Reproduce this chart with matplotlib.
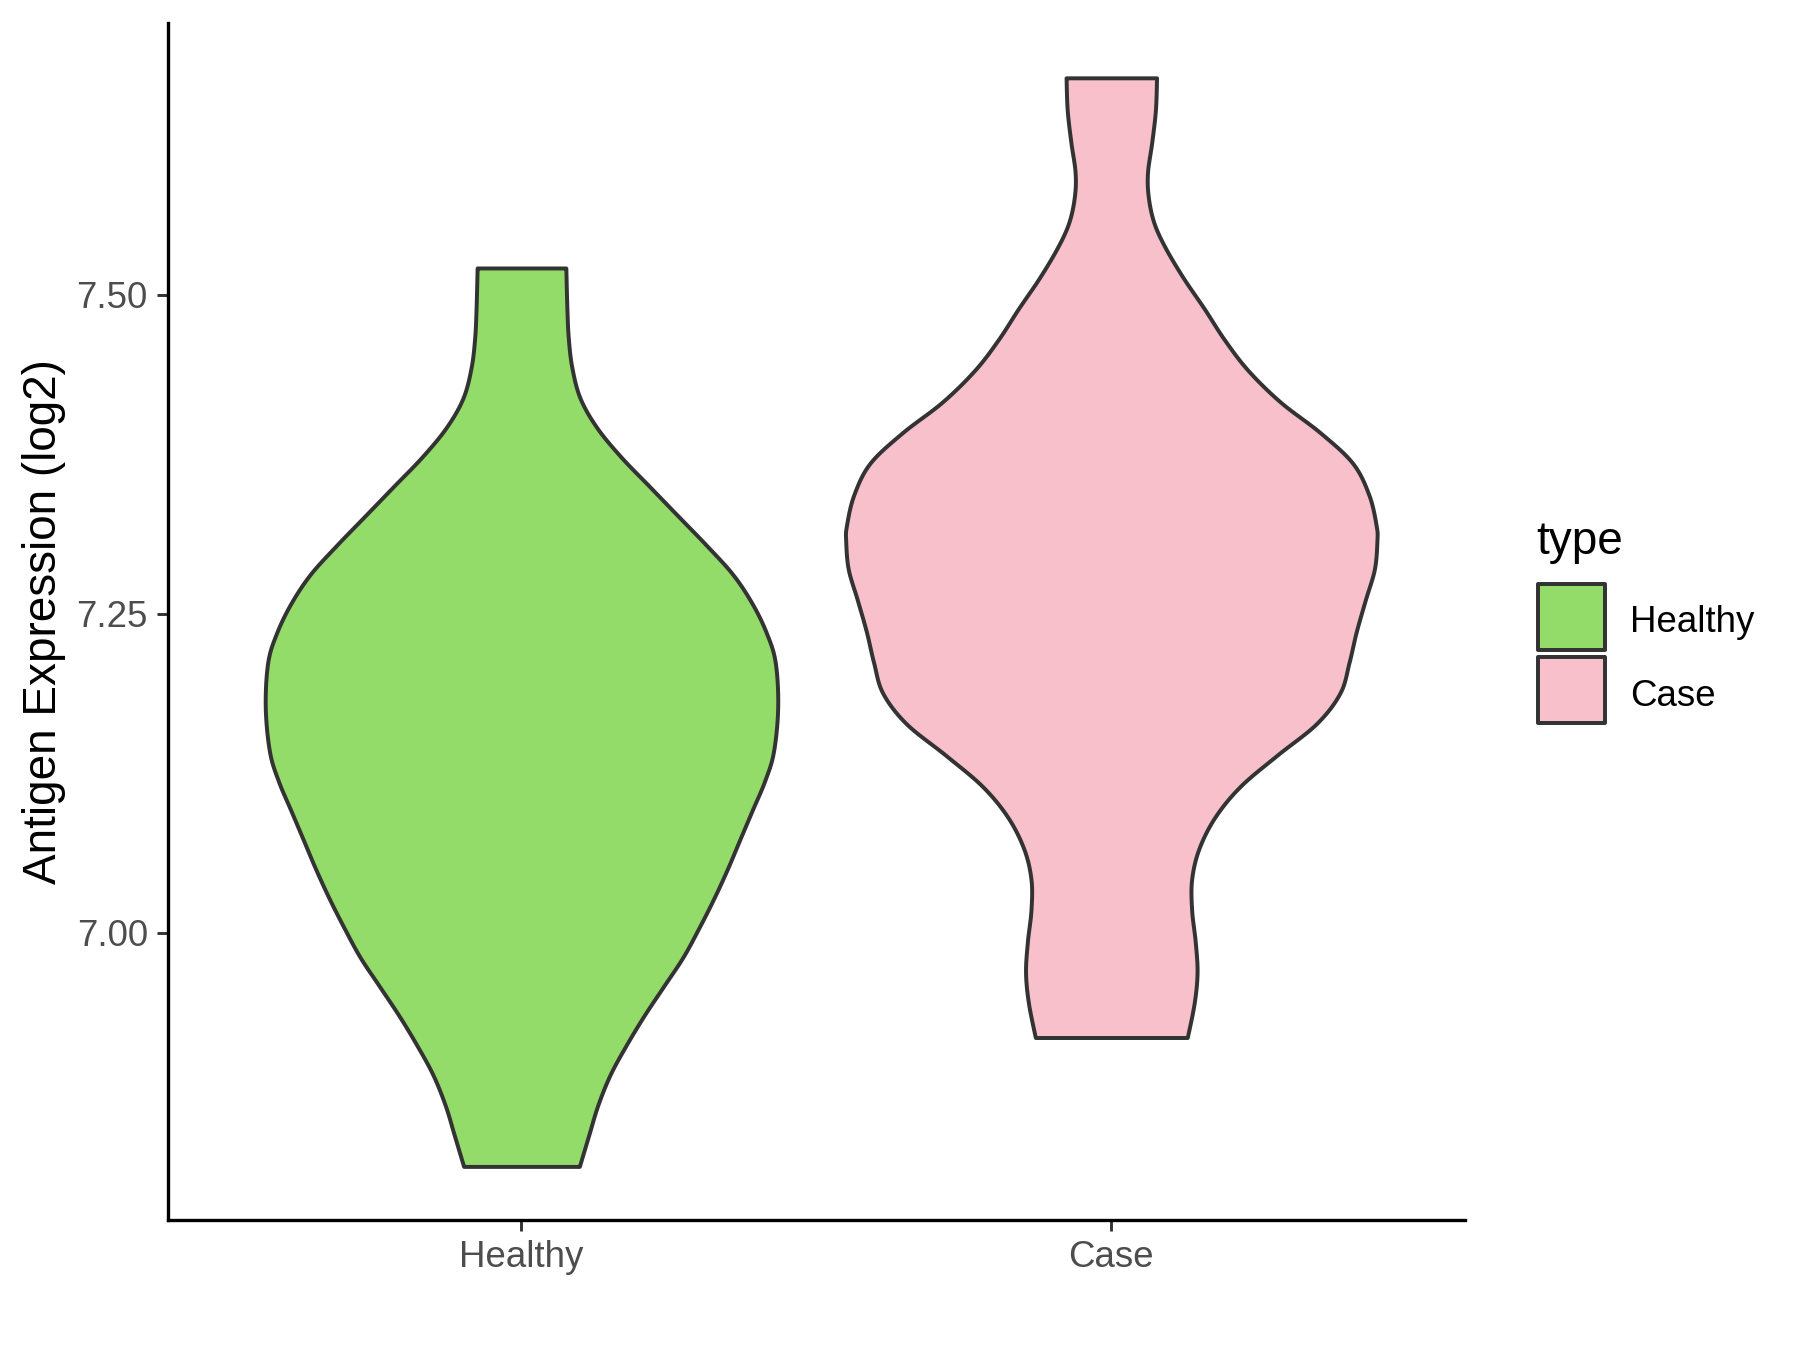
import numpy as np
import matplotlib.pyplot as plt
from matplotlib.patches import Rectangle

plt.rcParams['font.family'] = ['Liberation Sans', 'DejaVu Sans']

# ----------------------------------------------------------------------
# Data: violin outlines (expression, half width)
# ----------------------------------------------------------------------
categories = ['Healthy', 'Case']
fill_colors = ['#94DC6A', '#F8C0CB']

healthy_y = [7.521, 7.489, 7.466, 7.443, 7.419, 7.396, 7.373, 7.350, 7.327,
             7.304, 7.281, 7.258, 7.235, 7.212, 7.177, 7.142, 7.119, 7.096,
             7.073, 7.050, 7.027, 7.004, 6.981, 6.958, 6.935, 6.912, 6.889,
             6.865, 6.842, 6.817]
healthy_halfwidth = [0.0752, 0.0770, 0.0794, 0.0854, 0.0993, 0.1276, 0.1685,
                     0.2166, 0.2647, 0.3129, 0.3580, 0.3911, 0.4152, 0.4302,
                     0.4344, 0.4272, 0.4122, 0.3911, 0.3700, 0.3490, 0.3261,
                     0.3009, 0.2738, 0.2407, 0.2076, 0.1775, 0.1504, 0.1294,
                     0.1143, 0.0981]

case_y = [7.670, 7.645, 7.620, 7.596, 7.577, 7.557, 7.538, 7.514, 7.489,
          7.465, 7.441, 7.416, 7.392, 7.368, 7.343, 7.319, 7.307, 7.285,
          7.261, 7.236, 7.212, 7.188, 7.164, 7.139, 7.115, 7.091, 7.066,
          7.042, 7.018, 6.993, 6.969, 6.945, 6.918]
case_halfwidth = [0.0767, 0.0748, 0.0687, 0.0614, 0.0626, 0.0718, 0.0902,
                  0.1209, 0.1577, 0.1914, 0.2313, 0.2865, 0.3540, 0.4092,
                  0.4368, 0.4491, 0.4503, 0.4460, 0.4307, 0.4153, 0.4031,
                  0.3877, 0.3479, 0.2804, 0.2190, 0.1761, 0.1485, 0.1362,
                  0.1362, 0.1423, 0.1454, 0.1405, 0.1288]

y_ticks = [7.00, 7.25, 7.50]
y_tick_labels = ['7.00', '7.25', '7.50']

outline = '#333333'


def smooth_outline(ys, ws, n=12):
    # Catmull-Rom curve through the read points, only for drawing
    p = np.column_stack([ys, ws])
    p = np.vstack([p[0], p, p[-1]])
    out = []
    t = np.linspace(0, 1, n, endpoint=False)[:, None]
    for k in range(1, len(p) - 2):
        p0, p1, p2, p3 = p[k - 1], p[k], p[k + 1], p[k + 2]
        seg = 0.5 * ((2 * p1) + (-p0 + p2) * t
                     + (2 * p0 - 5 * p1 + 4 * p2 - p3) * t ** 2
                     + (-p0 + 3 * p1 - 3 * p2 + p3) * t ** 3)
        out.append(seg)
    out.append(p[-2][None, :])
    out = np.vstack(out)
    return out[:, 0], out[:, 1]


# ----------------------------------------------------------------------
# Figure
# ----------------------------------------------------------------------
fig = plt.figure(figsize=(12, 9), dpi=150)
ax = fig.add_axes([0.0931, 0.0963, 0.7209, 0.8867])

profiles = [(healthy_y, healthy_halfwidth), (case_y, case_halfwidth)]
for i, (ys, ws) in enumerate(profiles):
    pos = i + 1
    sy, sw = smooth_outline(np.array(ys), np.array(ws))
    ax.fill_betweenx(sy, pos - sw, pos + sw, facecolor=fill_colors[i],
                     edgecolor=outline, linewidth=1.9, joinstyle='round',
                     zorder=2)

ax.set_xlim(0.4, 2.6)
ax.set_ylim(6.775, 7.713)
ax.set_xticks([1, 2])
ax.set_xticklabels(categories)
ax.set_yticks(y_ticks)
ax.set_yticklabels(y_tick_labels)

for side in ['top', 'right']:
    ax.spines[side].set_visible(False)
for side in ['left', 'bottom']:
    ax.spines[side].set_linewidth(1.6)
    ax.spines[side].set_color('black')

ax.tick_params(axis='both', length=5.5, width=1.4, color='#333333',
               labelsize=17.6, labelcolor='#4D4D4D', pad=4)

ax.set_ylabel('Antigen Expression (log2)', fontsize=22, color='black')
ax.yaxis.set_label_coords(-0.078, 0.5)

# ----------------------------------------------------------------------
# Legend (drawn by hand, ggplot style)
# ----------------------------------------------------------------------
W, H = 1800.0, 1350.0
fig.text(1536 / W, 1 - 542 / H, 'type', fontsize=22, ha='left', va='center')
key_tops = [584, 657]
for i, lab in enumerate(categories):
    top = key_tops[i]
    rect = Rectangle((1538 / W, 1 - (top + 66) / H), 67 / W, 66 / H,
                     transform=fig.transFigure, facecolor=fill_colors[i],
                     edgecolor=outline, linewidth=1.9, joinstyle='round')
    fig.add_artist(rect)
    fig.text(1630 / W, 1 - (top + 39) / H, lab, fontsize=17.6,
             ha='left', va='center')

plt.savefig('out.png', dpi=150)
